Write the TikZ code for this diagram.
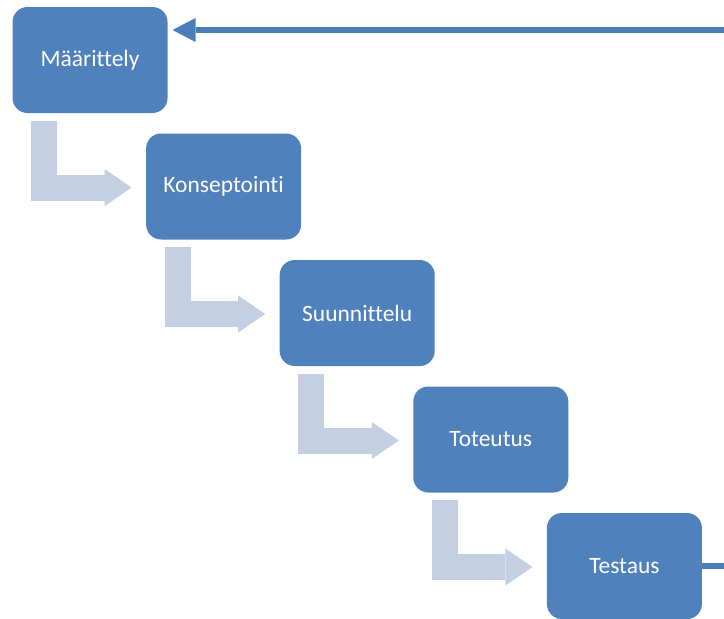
\documentclass[tikz,border=0pt]{standalone}
\usepackage{fontspec}
\setmainfont{Carlito}[Ligatures=NoCommon]
\usetikzlibrary{arrows.meta}
\definecolor{phaseblue}{HTML}{4F81BD}
\definecolor{steplight}{HTML}{C4CFE1}
\definecolor{loopblue}{HTML}{4A7EBB}
\tikzset{every picture/.style={line width=0.75pt}}
\tikzset{
  phase/.style={draw=none, fill=phaseblue, rounded corners=11.25pt, minimum width=116.25pt, minimum height=79.5pt, inner sep=0pt, text=white, font=\fontsize{17.6}{21}\selectfont},
  stepdown/.style={draw=steplight, line width=19.5pt, -{Triangle[length=20.25pt, width=27.75pt, line width=0pt]}},
  feedback/.style={draw=loopblue, line width=5pt, -{Triangle[length=17.25pt, width=18pt, line width=0pt]}}
}

\begin{document}
\begin{tikzpicture}[x=0.75pt,y=0.75pt,yscale=-1,xscale=1]
%set diagram to 724 x 618 and cut what runs past the right edge
\path[use as bounding box] (0,0) rectangle (724,618);
\clip (0,0) rectangle (724,618);
% Phase boxes
\node[phase] (Maarittely) at (90,60) {Määrittely};
\node[phase] (Konseptointi) at (223.6,186.5) {Konseptointi};
\node[phase] (Suunnittelu) at (357.2,313) {Suunnittelu};
\node[phase] (Toteutus) at (490.8,439.5) {Toteutus};
\node[phase] (Testaus) at (624.4,566) {Testaus};
% Bent arrows (yscale=-1, so a positive yshift goes down)
\draw[stepdown] ([xshift=24pt,yshift=5.25pt]Maarittely.south west) |- ([xshift=-10.5pt,yshift=0.75pt]Konseptointi.west);
\draw[stepdown] ([xshift=24pt,yshift=5.25pt]Konseptointi.south west) |- ([xshift=-10.5pt,yshift=0.75pt]Suunnittelu.west);
\draw[stepdown] ([xshift=24pt,yshift=5.25pt]Suunnittelu.south west) |- ([xshift=-10.5pt,yshift=0.75pt]Toteutus.west);
\draw[stepdown] ([xshift=24pt,yshift=5.25pt]Toteutus.south west) |- ([xshift=-10.5pt,yshift=0.75pt]Testaus.west);
% Back to the start
\coordinate (loopturn) at (760,30);
\path (Maarittely.east |- loopturn) coordinate (loopentry);
\draw[feedback] (Testaus.east) -| (loopturn) -- ([xshift=3.4pt]loopentry);
\end{tikzpicture}
\end{document}
